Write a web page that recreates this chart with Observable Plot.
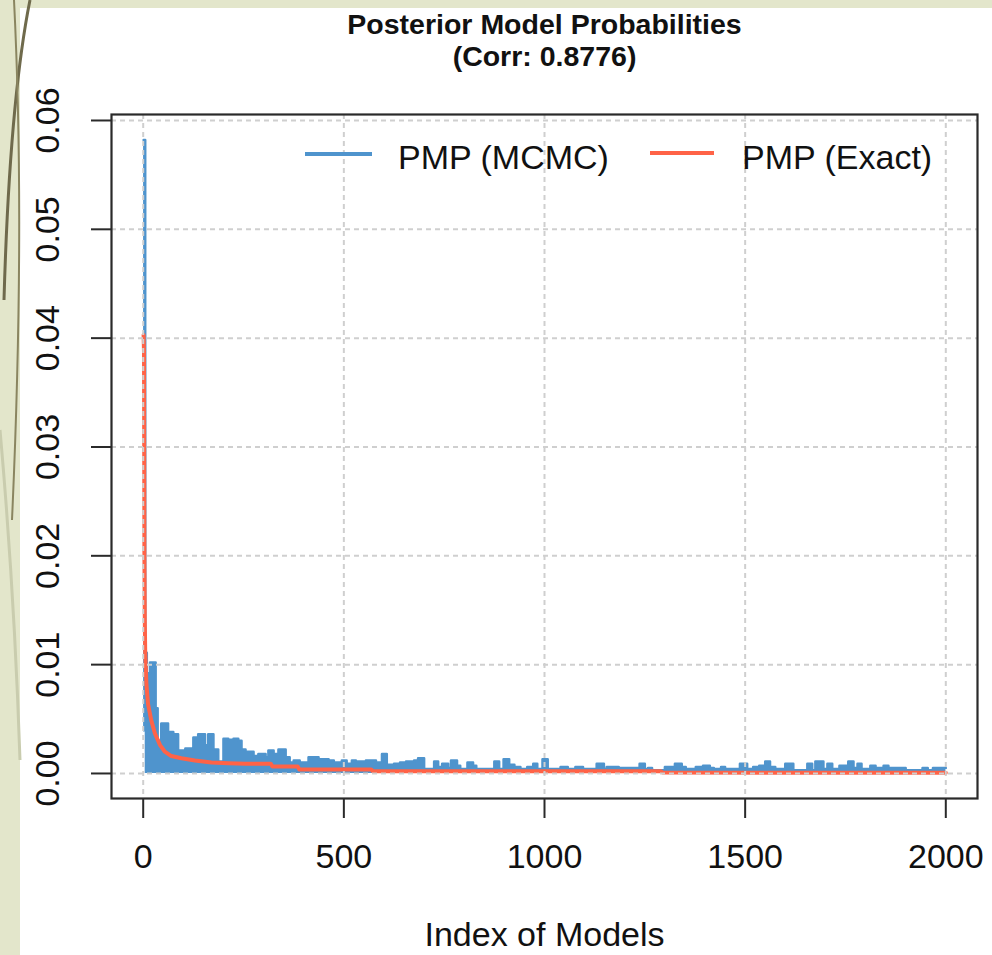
<!DOCTYPE html>
<html>
<head>
<meta charset="utf-8">
<script src="https://cdn.jsdelivr.net/npm/d3@7"></script>
<script src="https://cdn.jsdelivr.net/npm/@observablehq/plot@0.6"></script>
<style>
  html, body { margin: 0; padding: 0; background: #fff; }
  #wrap { position: relative; width: 992px; height: 955px; overflow: hidden; font-family: "Liberation Sans", Arial, sans-serif; background: #fff; }
  #deco { position: absolute; left: 0; top: 0; }
  #chart { position: absolute; left: 0; top: 0; }
  #legend { position: absolute; left: 0; top: 0; width: 992px; height: 200px; pointer-events: none; }
  .lg-line { position: absolute; height: 4px; }
  .lg-text { position: absolute; font-size: 34px; line-height: 34px; color: #111; white-space: nowrap; }
</style>
</head>
<body>
<div id="wrap">
  <svg id="deco" width="992" height="955">
    <rect x="0" y="0" width="992" height="8" fill="#e3e6cb"></rect>
    <rect x="0" y="0" width="20" height="955" fill="#e3e6cb"></rect>
    <path d="M30,0 C18,60 8,160 4,300" stroke="#6f6a4c" stroke-width="3" fill="none"></path>
    <path d="M14,0 C20,120 22,300 12,520" stroke="#8a8560" stroke-width="2" fill="none"></path>
    <path d="M0,430 C8,520 16,640 20,760" stroke="#c9ccae" stroke-width="3" fill="none"></path>
  </svg>
  <div id="chart"></div>
  <div id="legend"></div>
</div>
<script>
// ---- data ----
const titleLine1 = "Posterior Model Probabilities";
const titleLine2 = "(Corr: 0.8776)";
const xAxisTitle = "Index of Models";
const seriesNames = ["PMP (MCMC)", "PMP (Exact)"];
const seriesColors = ["#4F94CD", "#FF6347"];

const xTicks = [0, 500, 1000, 1500, 2000];
const xTickLabels = ["0", "500", "1000", "1500", "2000"];
const yTicks = [0, 0.01, 0.02, 0.03, 0.04, 0.05, 0.06];
const yTickLabels = ["0.00", "0.01", "0.02", "0.03", "0.04", "0.05", "0.06"];

// MCMC posterior model probabilities (read as step levels starting at each model index)
const mcmcIdx = [1,5,9,17,31,36,45,62,75,87,105,125,137,154,162,175,187,200,212,225,237,245,255,275,287,305,312,325,337,355,365,375,390,412,437,462,475,495,507,520,530,555,580,595,607,625,640,655,675,685,700,725,735,745,760,767,782,790,808,822,830,875,887,898,912,925,940,957,972,982,995,1008,1040,1058,1077,1096,1130,1148,1155,1185,1237,1250,1258,1268,1300,1325,1342,1352,1377,1395,1412,1422,1440,1450,1487,1505,1520,1535,1550,1562,1575,1600,1620,1655,1667,1675,1695,1705,1717,1735,1757,1770,1780,1790,1812,1825,1845,1857,1880,1900,1942,1955,1968,2000];
const mcmcVal = [0.0582,0.0111,0.0092,0.0102,0.0060,0.0030,0.0046,0.0038,0.0036,0.0021,0.0023,0.0033,0.0036,0.0026,0.0036,0.0022,0.0011,0.0032,0.0031,0.0032,0.0030,0.0022,0.0020,0.0016,0.0018,0.0015,0.0021,0.0018,0.0022,0.0015,0.0010,0.0012,0.0010,0.0015,0.0013,0.0012,0.0010,0.0012,0.0009,0.0012,0.0011,0.0012,0.0010,0.0018,0.0008,0.0009,0.0010,0.0011,0.0012,0.0014,0.0004,0.0011,0.0006,0.0009,0.0005,0.0012,0.0007,0.0004,0.0010,0.0007,0.0004,0.0011,0.0004,0.0013,0.0008,0.0006,0.0004,0.0006,0.0009,0.0004,0.0013,0.0004,0.0006,0.0004,0.0006,0.0004,0.0009,0.0004,0.0006,0.0005,0.0009,0.0004,0.0005,0.0003,0.0006,0.0009,0.0006,0.0004,0.0006,0.0007,0.0005,0.0004,0.0006,0.0004,0.0009,0.0004,0.0006,0.0007,0.0011,0.0006,0.0004,0.0009,0.0003,0.0009,0.0003,0.0011,0.0004,0.0009,0.0004,0.0007,0.0011,0.0005,0.0009,0.0004,0.0007,0.0005,0.0007,0.0005,0.0005,0.0003,0.0005,0.0003,0.0005,0.0005];
const firstSpikeLow = 0.0038;

// Exact posterior model probabilities (sorted, decreasing)
const exactIdx = [1,2,3,4,5,8,12,20,29,42,54,70,95,129,170,212,255,318,322,385,389,568,572,1290,1294,2000];
const exactVal = [0.0403,0.0387,0.0201,0.0140,0.0112,0.0082,0.0064,0.0049,0.0037,0.0026,0.0020,0.0016,0.0014,0.0012,0.0010,0.00095,0.0009,0.0009,0.00064,0.00064,0.00037,0.00037,0.00021,0.00021,0.00008,0.00006];

// ---- tables ----
const mcmc = mcmcIdx.map((x, i) => ({x, lo: i === 0 ? firstSpikeLow : 0, hi: mcmcVal[i]}));
const exact = exactIdx.map((x, i) => ({x, y: exactVal[i]}));

const BLUE = seriesColors[0], RED = seriesColors[1];
const INK = "#2a2a2a";
const GRID = "#cfcfcf";

const chart = Plot.plot({
  width: 992,
  height: 955,
  marginLeft: 111,
  marginRight: 15,
  marginTop: 114,
  marginBottom: 157,
  x: {domain: [-79, 2079]},
  y: {domain: [-0.0023, 0.06055]},
  style: {fontFamily: "Liberation Sans, Arial, sans-serif", fontSize: "34px", color: "#111", background: "transparent", overflow: "visible"},
  marks: [
    Plot.areaY(mcmc, {x: "x", y1: "lo", y2: "hi", curve: "step-after", fill: BLUE}),
    Plot.line(mcmc, {x: "x", y: "hi", curve: "step-after", stroke: BLUE, strokeWidth: 2.5}),
    Plot.line(exact, {x: "x", y: "y", stroke: RED, strokeWidth: 4}),
    Plot.gridX({ticks: xTicks, stroke: GRID, strokeOpacity: 1, strokeWidth: 2, strokeDasharray: "5,4"}),
    Plot.gridY({ticks: yTicks, stroke: GRID, strokeOpacity: 1, strokeWidth: 2, strokeDasharray: "5,4"}),
    Plot.frame({stroke: INK, strokeWidth: 2.2}),
    Plot.axisX({ticks: xTicks, tickSize: 20, tickPadding: 25, tickFormat: (d, i) => xTickLabels[xTicks.indexOf(d)], stroke: INK, strokeWidth: 2, fontSize: 34, fill: "#111", label: null}),
    Plot.axisY({ticks: yTicks, tickSize: 20, tickFormat: () => "", stroke: INK, strokeWidth: 2, label: null}),
    Plot.text(yTicks, {y: d => d, text: (d, i) => yTickLabels[i], frameAnchor: "left", dx: -63.5, rotate: -90, fontSize: 34, fill: "#111", textAnchor: "middle", lineAnchor: "middle", ariaLabel: "ytick-labels"}),
    Plot.text([titleLine1], {frameAnchor: "top", dy: -81, lineAnchor: "bottom", fontSize: 28.5, fontWeight: "bold", fill: "#111"}),
    Plot.text([titleLine2], {frameAnchor: "top", dy: -49, lineAnchor: "bottom", fontSize: 28.5, fontWeight: "bold", fill: "#111"}),
    Plot.text([xAxisTitle], {frameAnchor: "bottom", dy: 147, lineAnchor: "bottom", fontSize: 34, fill: "#111"})
  ]
});
document.getElementById("chart").appendChild(chart);
d3.select(chart).selectAll('g[aria-label="ytick-labels"] text')
  .attr("textLength", 55).attr("lengthAdjust", "spacingAndGlyphs");

// ---- legend (inside plot, top right, like R's legend) ----
const lg = document.getElementById("legend");
const legendItems = [
  {lineLeft: 305, lineWidth: 67, lineTop: 152, textLeft: 398},
  {lineLeft: 650, lineWidth: 64, lineTop: 151, textLeft: 742}
];
legendItems.forEach((it, i) => {
  const l = document.createElement("div");
  l.className = "lg-line";
  l.style.left = it.lineLeft + "px"; l.style.top = it.lineTop + "px"; l.style.width = it.lineWidth + "px";
  l.style.background = seriesColors[i];
  lg.appendChild(l);
  const t = document.createElement("div");
  t.className = "lg-text";
  t.style.left = it.textLeft + "px"; t.style.top = "140px";
  t.textContent = seriesNames[i];
  lg.appendChild(t);
});
</script>
</body>
</html>
